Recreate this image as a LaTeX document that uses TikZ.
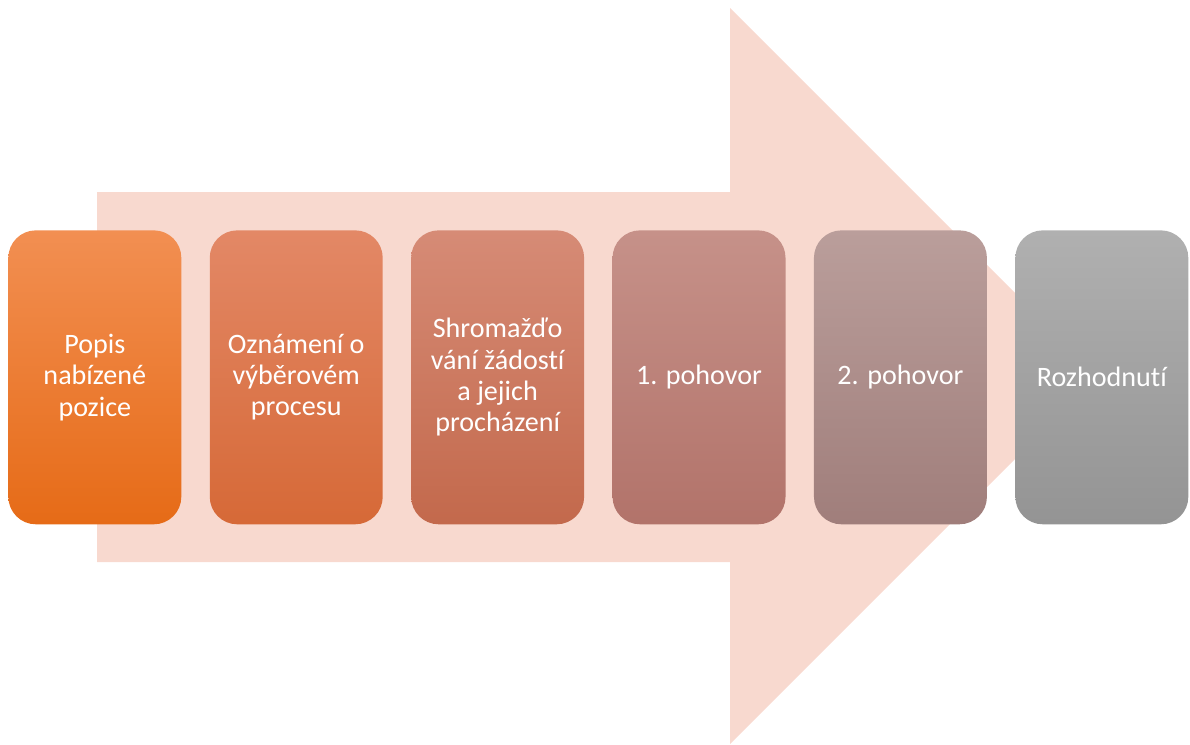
\documentclass[tikz,border=0pt]{standalone}
\usepackage{fontspec}
\setmainfont[Ligatures={NoCommon}]{Carlito}
\definecolor{arrowpink}{HTML}{F8D9CF}
\begin{document}
\begin{tikzpicture}[x=0.02cm,y=-0.02cm]

\tikzstyle {stage}=[shape=rectangle,rounded corners=0.55cm,
     minimum width=3.46cm,minimum height=5.88cm, anchor=north west,
     align=center,text=white,font=\fontsize{16}{17.8}\selectfont];

\useasboundingbox (0,0) rectangle (1190,744);

% Big arrow in the background
\fill [arrowpink] (97,192) -- (730,192) -- (730,8) -- (1098,376)
     -- (730,744) -- (730,562) -- (97,562) -- cycle;

% Stages
\draw (8,230) node [stage,top color={rgb,255:red,242;green,143;blue,82},
     bottom color={rgb,255:red,230;green,107;blue,23}] (s1)
     {Popis\\nabízené\\pozice};
\draw (209.4,230) node [stage,top color={rgb,255:red,227;green,136;blue,102},
     bottom color={rgb,255:red,214;green,105;blue,55}] (s2)
     {Oznámení o\\výběrovém\\procesu};
\draw (410.8,230) node [stage,top color={rgb,255:red,214;green,139;blue,118},
     bottom color={rgb,255:red,195;green,105;blue,76}] (s3)
     {Shromažďo\\vání žádostí\\a jejich\\procházení};
\draw (612.2,230) node [stage,top color={rgb,255:red,198;green,145;blue,137},
     bottom color={rgb,255:red,178;green,115;blue,106}] (s4)
     {1. pohovor};
\draw (813.6,230) node [stage,top color={rgb,255:red,186;green,158;blue,155},
     bottom color={rgb,255:red,160;green,126;blue,123}] (s5)
     {2. pohovor};
\draw (1015,230) node [stage,top color={rgb,255:red,176;green,176;blue,176},
     bottom color={rgb,255:red,148;green,148;blue,148}] (s6)
     {Rozhodnutí};

\end{tikzpicture}
\end{document}
